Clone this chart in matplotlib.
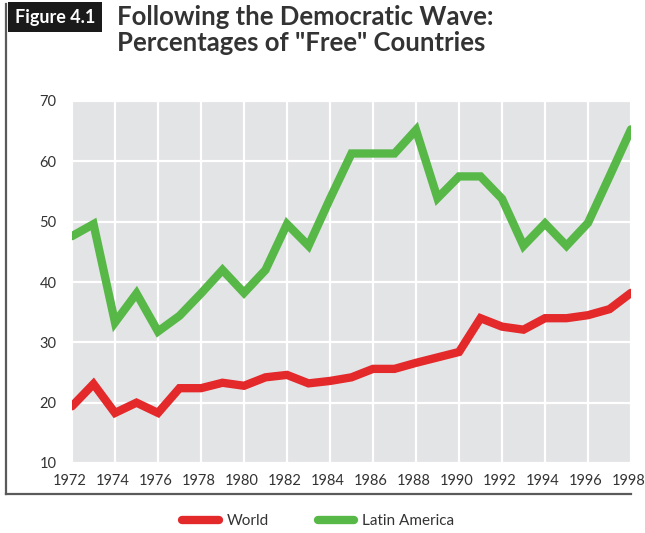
import numpy as np
import matplotlib.pyplot as plt
import matplotlib.transforms as mtransforms
from matplotlib.lines import Line2D

years = list(range(1972, 1999))
world = [19.4, 23.1, 18.3, 20.0, 18.3, 22.4, 22.4, 23.3, 22.8, 24.2, 24.6, 23.2, 23.6,
         24.2, 25.6, 25.6, 26.6, 27.5, 28.4, 34.0, 32.6, 32.1, 34.0, 34.0, 34.5, 35.5, 38.2]
latin_america = [47.6, 49.6, 33.3, 38.1, 31.8, 34.4, 38.1, 42.0, 38.2, 42.0, 49.6, 46.0, 53.8,
                 61.3, 61.3, 61.3, 65.2, 53.9, 57.5, 57.5, 53.8, 46.0, 49.7, 46.0, 49.8, 57.5, 65.3]
x_ticks = list(range(1972, 1999, 2))
y_ticks = [10, 20, 30, 40, 50, 60, 70]

red = '#e4292b'
green = '#57b848'
text_col = '#333333'

W, H = 645, 533
fig = plt.figure(figsize=(W / 100, H / 100), dpi=100)

# main plot area
ax = fig.add_axes([72 / W, 1 - 463 / H, 559 / W, 362 / H])
ax.set_facecolor('#e3e4e6')
ax.plot(years, world, color=red, lw=6, solid_capstyle='round', solid_joinstyle='miter', zorder=3)
ax.plot(years, latin_america, color=green, lw=6, solid_capstyle='round', solid_joinstyle='miter', zorder=3)
ax.set_xlim(1972, 1998)
ax.set_ylim(10, 70)
ax.set_xticks(x_ticks)
ax.set_yticks(y_ticks)
ax.grid(True, color='white', lw=1.6, zorder=1)
ax.set_axisbelow(True)
for s in ax.spines.values():
    s.set_visible(False)
ax.tick_params(length=0, labelsize=10.5, labelcolor=text_col)
ax.tick_params(axis='x', pad=8)
ax.tick_params(axis='y', pad=11)
shift = mtransforms.ScaledTranslation(-2 / 100, 0, fig.dpi_scale_trans)
for lab in ax.get_xticklabels():
    lab.set_family(['Lato', 'DejaVu Sans'])
    lab.set_transform(lab.get_transform() + shift)
for lab in ax.get_yticklabels():
    lab.set_family(['Lato', 'DejaVu Sans'])

# frame lines on the left and bottom of the figure
fig.add_artist(Line2D([6 / W, 6 / W], [1 - 494 / H, 1 - 4 / H], color='#5a5a5a', lw=1.6))
fig.add_artist(Line2D([6 / W, 631 / W], [1 - 494 / H, 1 - 494 / H], color='#5a5a5a', lw=1.6))

# "Figure 4.1" box and title
fig.text(55 / W, 1 - 17 / H, 'Figure 4.1', color='white', fontsize=13, fontweight='bold',
         family=['Liberation Sans Narrow', 'Lato', 'DejaVu Sans'], ha='center', va='center',
         bbox=dict(boxstyle='square,pad=0.35', fc='#1a1a1a', ec='none'))
fig.text(117 / W, 1 - 5 / H, 'Following the Democratic Wave:\nPercentages of "Free" Countries',
         color=text_col, fontsize=18.5, fontweight='bold', family=['Lato', 'DejaVu Sans'],
         ha='left', va='top', linespacing=1.1)

handles = [Line2D([], [], color=red, lw=6, solid_capstyle='round'),
           Line2D([], [], color=green, lw=6, solid_capstyle='round')]
fig.legend(handles, ['World', 'Latin America'], loc='center', bbox_to_anchor=(318 / W, 1 - 521 / H),
           ncol=2, frameon=False, handlelength=2.4, columnspacing=3.2, handletextpad=0.5,
           prop={'family': ['Lato', 'DejaVu Sans'], 'size': 11}, labelcolor=text_col)

fig.savefig('out.png', dpi=100)
